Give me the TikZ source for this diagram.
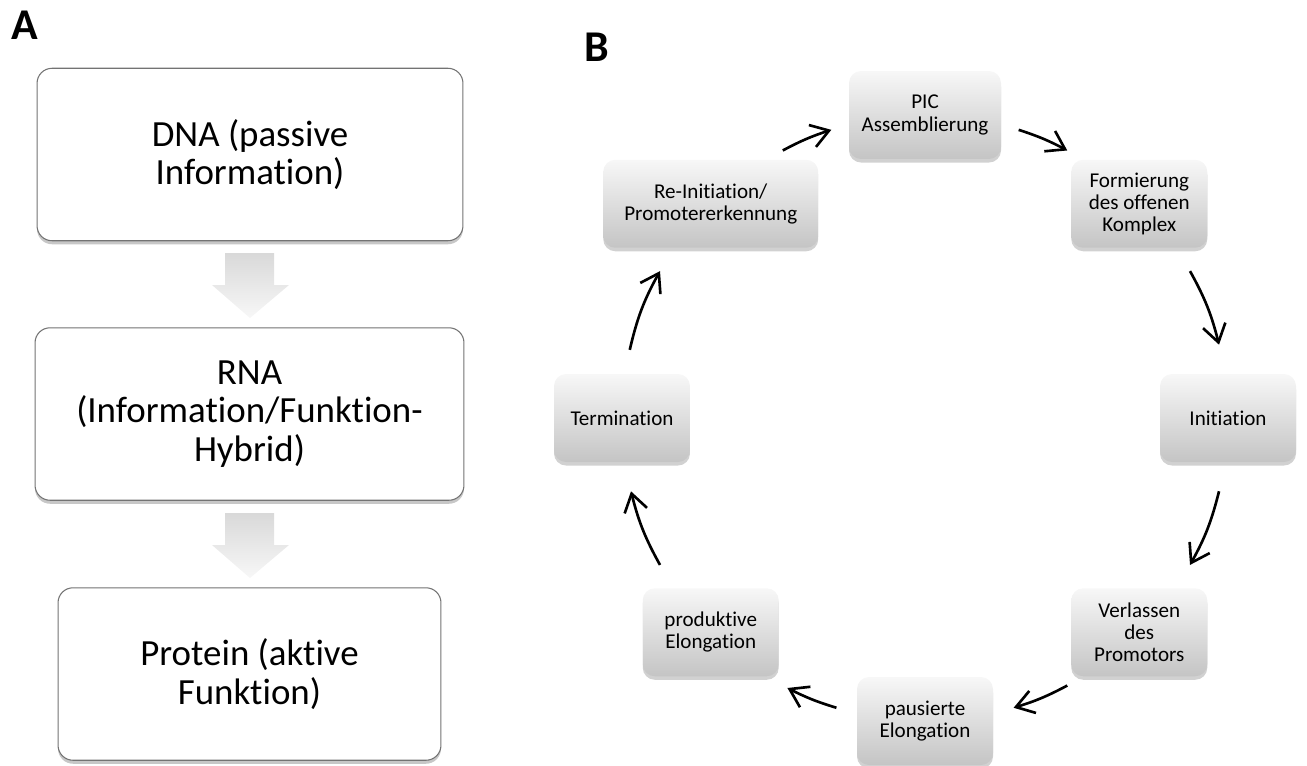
\documentclass[tikz,border=0pt]{standalone}
\usepackage{fontspec}
\setmainfont{Carlito}[Ligatures={NoCommon,NoContextual,NoRequired},RawFeature={-liga;-clig;-calt;-rlig;-dlig}]
\usetikzlibrary{arrows.meta,shadows}

\tikzset{
  panellabel/.style={font=\fontsize{25}{28}\selectfont\bfseries},
  infobox/.style={draw=black!55, line width=0.6pt, fill=white, rounded corners=0.3cm,
    minimum height=3.45cm, align=center, font=\fontsize{21}{22}\selectfont,
    drop shadow={shadow xshift=0pt, shadow yshift=-2pt, fill=black, opacity=0.22}},
  flowarrow/.style={top color=black!15, bottom color=black!3},
  stagebox/.style={rounded corners=0.24cm, top color=black!3, bottom color=black!23,
    minimum height=1.76cm, align=center, font=\fontsize{12}{12.6}\selectfont,
    drop shadow={shadow xshift=0pt, shadow yshift=-2pt, fill=black, opacity=0.18}},
  cyclearrow/.style={line width=1.5pt, -{Straight Barb[length=3.5mm,width=4.6mm]}}
}

\begin{document}
\begin{tikzpicture}[x=0.02cm, y=0.02cm]
  \useasboundingbox (0,0) rectangle (1307,-765);

  % panel A
  \node [panellabel] (labA) at (25,-25) {A};
  \node [infobox, minimum width=8.52cm] (dna) at (250,-154.5) {DNA (passive\\Information)};
  \node [infobox, minimum width=8.58cm] (rna) at (249.5,-414) {RNA\\(Information/Funktion-\\Hybrid)};
  \node [infobox, minimum width=7.66cm] (protein) at (249.5,-674) {Protein (aktive\\Funktion)};

  \shade [flowarrow] (225,-253) -- (274,-253) -- (274,-285) -- (289,-285) -- (250,-318)
    -- (212,-285) -- (225,-285) -- cycle;
  \shade [flowarrow] (225,-513) -- (274,-513) -- (274,-545) -- (289,-545) -- (250,-578)
    -- (212,-545) -- (225,-545) -- cycle;

  % panel B
  \node [panellabel] (labB) at (597,-47) {B};
  \coordinate (ctr) at (925,-418);

  \node [stagebox, minimum width=3.04cm] (pic) at ([shift={(90:303)}]ctr) {PIC\\Assemblierung};
  \node [stagebox, minimum width=2.72cm] (open) at ([shift={(45:303)}]ctr) {Formierung\\des offenen\\Komplex};
  \node [stagebox, minimum width=2.72cm] (init) at ([shift={(0:303)}]ctr) {Initiation};
  \node [stagebox, minimum width=2.72cm] (escape) at ([shift={(-45:303)}]ctr) {Verlassen\\des\\Promotors};
  \node [stagebox, minimum width=2.72cm] (paused) at ([shift={(-90:303)}]ctr) {pausierte\\Elongation};
  \node [stagebox, minimum width=2.72cm] (productive) at ([shift={(-135:303)}]ctr) {produktive\\Elongation};
  \node [stagebox, minimum width=2.72cm] (term) at ([shift={(180:303)}]ctr) {Termination};
  \node [stagebox, minimum width=4.30cm] (reinit) at ([shift={(135:303)}]ctr) {Re-Initiation/\\Promotererkennung};

  % arrow ends on the cycle
  \coordinate (c1s) at ([shift={(118:303)}]ctr);
  \coordinate (c1e) at ([shift={(108:303)}]ctr);
  \coordinate (c2s) at ([shift={(72:303)}]ctr);
  \coordinate (c2e) at ([shift={(62:303)}]ctr);
  \coordinate (c3s) at ([shift={(29:303)}]ctr);
  \coordinate (c3e) at ([shift={(14:303)}]ctr);
  \coordinate (c4s) at ([shift={(-14:303)}]ctr);
  \coordinate (c4e) at ([shift={(-29:303)}]ctr);
  \coordinate (c5s) at ([shift={(-62:303)}]ctr);
  \coordinate (c5e) at ([shift={(-73:303)}]ctr);
  \coordinate (c6s) at ([shift={(-107:303)}]ctr);
  \coordinate (c6e) at ([shift={(-117:303)}]ctr);
  \coordinate (c7s) at ([shift={(-151:303)}]ctr);
  \coordinate (c7e) at ([shift={(-166:303)}]ctr);
  \coordinate (c8s) at ([shift={(167:303)}]ctr);
  \coordinate (c8e) at ([shift={(151:303)}]ctr);

  \draw [cyclearrow] (c1s) to[bend left=5] (c1e);
  \draw [cyclearrow] (c2s) to[bend left=5] (c2e);
  \draw [cyclearrow] (c3s) to[bend left=7.5] (c3e);
  \draw [cyclearrow] (c4s) to[bend left=7.5] (c4e);
  \draw [cyclearrow] (c5s) to[bend left=5.5] (c5e);
  \draw [cyclearrow] (c6s) to[bend left=5] (c6e);
  \draw [cyclearrow] (c7s) to[bend left=7.5] (c7e);
  \draw [cyclearrow] (c8s) to[bend left=8] (c8e);
\end{tikzpicture}
\end{document}
